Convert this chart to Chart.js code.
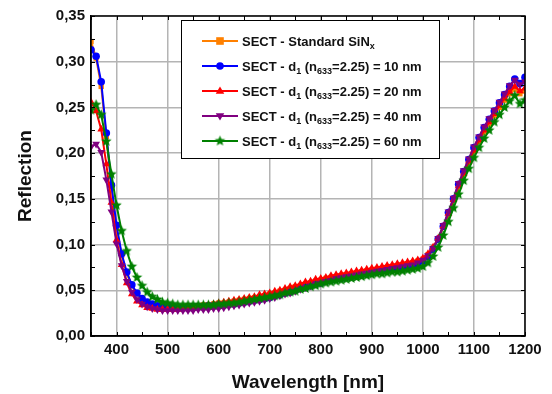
<!DOCTYPE html>
<html>
<head>
<meta charset="utf-8">
<script src="https://cdn.jsdelivr.net/npm/chart.js@4"></script>
<style>
  html, body { margin: 0; padding: 0; background: #fff; }
</style>
</head>
<body>
<canvas id="chart" width="552" height="394"></canvas>
<script>
// wavelength grid (nm)
const wavelengths = [
  350, 360, 370, 380, 390, 400, 410, 420, 430, 440,
  450, 460, 470, 480, 490, 500, 510, 520, 530, 540,
  550, 560, 570, 580, 590, 600, 610, 620, 630, 640,
  650, 660, 670, 680, 690, 700, 710, 720, 730, 740,
  750, 760, 770, 780, 790, 800, 810, 820, 830, 840,
  850, 860, 870, 880, 890, 900, 910, 920, 930, 940,
  950, 960, 970, 980, 990, 1000, 1010, 1020, 1030, 1040,
  1050, 1060, 1070, 1080, 1090, 1100, 1110, 1120, 1130, 1140,
  1150, 1160, 1170, 1180, 1190, 1200
];

const standardSiN = [
  0.322, 0.304, 0.273, 0.218, 0.162, 0.118, 0.088, 0.068, 0.055, 0.046,
  0.040, 0.036, 0.034, 0.033, 0.032, 0.032, 0.032, 0.032, 0.032, 0.033,
  0.033, 0.033, 0.034, 0.034, 0.035, 0.036, 0.036, 0.037, 0.038, 0.039,
  0.040, 0.041, 0.042, 0.043, 0.044, 0.046, 0.047, 0.049, 0.050, 0.052,
  0.054, 0.055, 0.057, 0.058, 0.060, 0.061, 0.063, 0.064, 0.065, 0.066,
  0.067, 0.068, 0.069, 0.070, 0.071, 0.072, 0.073, 0.074, 0.075, 0.076,
  0.077, 0.078, 0.079, 0.080, 0.082, 0.084, 0.089, 0.096, 0.106, 0.119,
  0.133, 0.148, 0.163, 0.177, 0.190, 0.202, 0.213, 0.223, 0.232, 0.241,
  0.250, 0.258, 0.265, 0.270, 0.265, 0.268
];

const d10 = [
  0.313, 0.306, 0.278, 0.222, 0.165, 0.121, 0.090, 0.070, 0.056, 0.047,
  0.041, 0.037, 0.035, 0.033, 0.032, 0.032, 0.031, 0.031, 0.031, 0.031,
  0.032, 0.032, 0.032, 0.033, 0.033, 0.034, 0.034, 0.035, 0.035, 0.036,
  0.037, 0.038, 0.039, 0.040, 0.041, 0.042, 0.044, 0.045, 0.047, 0.048,
  0.050, 0.052, 0.053, 0.055, 0.057, 0.058, 0.060, 0.061, 0.062, 0.063,
  0.064, 0.065, 0.066, 0.067, 0.068, 0.069, 0.070, 0.071, 0.072, 0.073,
  0.074, 0.075, 0.076, 0.077, 0.079, 0.082, 0.087, 0.095, 0.106, 0.120,
  0.135, 0.150, 0.166, 0.180, 0.193, 0.206, 0.217, 0.228, 0.237, 0.246,
  0.255, 0.264, 0.273, 0.281, 0.276, 0.283
];

const d20 = [
  0.256, 0.246, 0.226, 0.188, 0.146, 0.105, 0.078, 0.058, 0.046, 0.038,
  0.034, 0.031, 0.030, 0.029, 0.029, 0.029, 0.029, 0.029, 0.030, 0.030,
  0.031, 0.032, 0.033, 0.034, 0.035, 0.036, 0.037, 0.038, 0.039, 0.040,
  0.041, 0.042, 0.043, 0.045, 0.046, 0.047, 0.049, 0.050, 0.052, 0.054,
  0.055, 0.057, 0.059, 0.060, 0.062, 0.063, 0.064, 0.066, 0.067, 0.068,
  0.069, 0.070, 0.071, 0.072, 0.073, 0.074, 0.075, 0.076, 0.077, 0.078,
  0.079, 0.080, 0.081, 0.082, 0.083, 0.085, 0.090, 0.097, 0.107, 0.120,
  0.134, 0.149, 0.164, 0.178, 0.191, 0.203, 0.214, 0.225, 0.234, 0.243,
  0.252, 0.260, 0.267, 0.273, 0.268, 0.271
];

const d40 = [
  0.207, 0.210, 0.201, 0.171, 0.136, 0.101, 0.077, 0.060, 0.048, 0.040,
  0.035, 0.032, 0.030, 0.029, 0.028, 0.028, 0.028, 0.028, 0.028, 0.028,
  0.028, 0.029, 0.029, 0.029, 0.030, 0.030, 0.031, 0.032, 0.033, 0.034,
  0.035, 0.036, 0.037, 0.038, 0.039, 0.041, 0.042, 0.044, 0.046, 0.047,
  0.049, 0.051, 0.053, 0.055, 0.057, 0.058, 0.060, 0.061, 0.063, 0.064,
  0.065, 0.066, 0.067, 0.068, 0.069, 0.070, 0.071, 0.072, 0.073, 0.074,
  0.075, 0.076, 0.077, 0.078, 0.080, 0.083, 0.088, 0.096, 0.107, 0.121,
  0.136, 0.151, 0.167, 0.181, 0.194, 0.207, 0.218, 0.229, 0.238, 0.247,
  0.256, 0.265, 0.274, 0.280, 0.275, 0.278
];

const d60 = [
  0.247, 0.253, 0.242, 0.213, 0.177, 0.143, 0.115, 0.093, 0.076, 0.064,
  0.055, 0.048, 0.043, 0.040, 0.037, 0.036, 0.035, 0.034, 0.034, 0.034,
  0.034, 0.034, 0.034, 0.034, 0.034, 0.035, 0.035, 0.036, 0.036, 0.037,
  0.038, 0.039, 0.040, 0.041, 0.042, 0.043, 0.044, 0.045, 0.047, 0.048,
  0.049, 0.051, 0.052, 0.054, 0.055, 0.057, 0.058, 0.059, 0.060, 0.061,
  0.062, 0.063, 0.064, 0.065, 0.066, 0.067, 0.068, 0.068, 0.069, 0.070,
  0.070, 0.071, 0.072, 0.073, 0.074, 0.076, 0.080, 0.087, 0.097, 0.110,
  0.125, 0.140, 0.155, 0.170, 0.183, 0.195, 0.206, 0.216, 0.225, 0.234,
  0.242, 0.250, 0.257, 0.263, 0.254, 0.258
];

const xTicks = [400, 500, 600, 700, 800, 900, 1000, 1100, 1200];
const yTicks = [0, 0.05, 0.1, 0.15, 0.2, 0.25, 0.3, 0.35];

// legend text pieces: [text, isSubscript]
const legendLabels = [
  [["SECT - Standard SiN", false], ["x", true]],
  [["SECT - d", false], ["1", true], [" (n", false], ["633", true], ["=2.25) = 10 nm", false]],
  [["SECT - d", false], ["1", true], [" (n", false], ["633", true], ["=2.25) = 20 nm", false]],
  [["SECT - d", false], ["1", true], [" (n", false], ["633", true], ["=2.25) = 40 nm", false]],
  [["SECT - d", false], ["1", true], [" (n", false], ["633", true], ["=2.25) = 60 nm", false]]
];

const FONT = "'Liberation Sans', Arial, sans-serif";

// filled five-point star used as the green marker
function makeStar(color, r) {
  const c = document.createElement("canvas");
  const s = Math.ceil(r * 2 + 2);
  c.width = s;
  c.height = s;
  const g = c.getContext("2d");
  g.fillStyle = color;
  g.beginPath();
  for (let i = 0; i < 10; i++) {
    const rad = i % 2 === 0 ? r : r * 0.45;
    const a = -Math.PI / 2 + (i * Math.PI) / 5;
    const px = s / 2 + rad * Math.cos(a);
    const py = s / 2 + rad * Math.sin(a);
    if (i === 0) g.moveTo(px, py);
    else g.lineTo(px, py);
  }
  g.closePath();
  g.fill();
  return c;
}
const star = makeStar("#008000", 5.5);

function pts(vals) {
  return wavelengths.map((w, i) => ({ x: w, y: vals[i] }));
}

const series = [
  { data: standardSiN, color: "#FF8000", style: "rect", radius: 3.8, rot: 0, order: 5 },
  { data: d10, color: "#0000FF", style: "circle", radius: 3.8, rot: 0, order: 4 },
  { data: d20, color: "#FF0000", style: "triangle", radius: 4.5, rot: 0, order: 3 },
  { data: d40, color: "#800080", style: "triangle", radius: 4.5, rot: 180, order: 2 },
  { data: d60, color: "#008000", style: star, radius: 5.5, rot: 0, order: 1 }
];

const framePlugin = {
  id: "frame",
  afterDatasetsDraw(chart) {
    const { ctx, chartArea: a, scales } = chart;
    ctx.save();
    ctx.strokeStyle = "#000";
    ctx.lineWidth = 1.5;
    ctx.strokeRect(a.left, a.top, a.right - a.left, a.bottom - a.top);
    ctx.lineWidth = 1;
    ctx.beginPath();
    for (let v = 0; v <= 0.35001; v += 0.025) {
      const y = Math.round(scales.y.getPixelForValue(v)) + 0.5;
      ctx.moveTo(a.left, y);
      ctx.lineTo(a.left + 4, y);
      ctx.moveTo(a.right, y);
      ctx.lineTo(a.right - 4, y);
    }
    for (let w = 350; w <= 1200; w += 50) {
      const x = Math.round(scales.x.getPixelForValue(w)) + 0.5;
      ctx.moveTo(x, a.top);
      ctx.lineTo(x, a.top + 4);
      ctx.moveTo(x, a.bottom);
      ctx.lineTo(x, a.bottom - 4);
    }
    ctx.stroke();
    ctx.restore();
  }
};

function drawMarker(ctx, s, x, y) {
  ctx.fillStyle = s.color;
  if (s.style === "rect") {
    ctx.fillRect(x - s.radius, y - s.radius, s.radius * 2, s.radius * 2);
  } else if (s.style === "circle") {
    ctx.beginPath();
    ctx.arc(x, y, s.radius, 0, Math.PI * 2);
    ctx.fill();
  } else if (s.style === "triangle") {
    const r = s.radius;
    const dir = s.rot === 180 ? -1 : 1;
    ctx.beginPath();
    ctx.moveTo(x, y - dir * r);
    ctx.lineTo(x - r * 0.95, y + dir * r * 0.6);
    ctx.lineTo(x + r * 0.95, y + dir * r * 0.6);
    ctx.closePath();
    ctx.fill();
  } else {
    ctx.drawImage(s.style, x - s.style.width / 2, y - s.style.height / 2);
  }
}

const legendPlugin = {
  id: "boxLegend",
  afterDraw(chart) {
    const ctx = chart.ctx;
    const box = { x: 181.5, y: 20.5, w: 258, h: 138 };
    ctx.save();
    ctx.fillStyle = "#fff";
    ctx.fillRect(box.x, box.y, box.w, box.h);
    ctx.strokeStyle = "#000";
    ctx.lineWidth = 1;
    ctx.strokeRect(box.x, box.y, box.w, box.h);
    const rows = [41, 66, 91, 116, 141];
    series.forEach((s, i) => {
      const y = rows[i];
      ctx.strokeStyle = s.color;
      ctx.lineWidth = 2;
      ctx.beginPath();
      ctx.moveTo(202, y);
      ctx.lineTo(238, y);
      ctx.stroke();
      drawMarker(ctx, s, 220, y);
      let x = 242;
      ctx.fillStyle = "#111";
      ctx.textBaseline = "alphabetic";
      legendLabels[i].forEach(([t, sub]) => {
        ctx.font = sub ? "bold 9px " + FONT : "bold 13px " + FONT;
        ctx.fillText(t, x, sub ? y + 8 : y + 5);
        x += ctx.measureText(t).width;
      });
    });
    ctx.restore();
  }
};

new Chart(document.getElementById("chart"), {
  type: "line",
  data: {
    datasets: series.map((s) => ({
      data: pts(s.data),
      borderColor: s.color,
      backgroundColor: s.color,
      borderWidth: 2,
      pointStyle: s.style,
      pointRadius: s.radius,
      pointRotation: s.rot,
      pointBorderWidth: 0,
      order: s.order,
      tension: 0
    }))
  },
  options: {
    responsive: false,
    animation: false,
    layout: { padding: { left: 0, right: 27, top: 16, bottom: 0 } },
    plugins: { legend: { display: false }, tooltip: { enabled: false } },
    scales: {
      x: {
        type: "linear",
        min: 350,
        max: 1200,
        afterBuildTicks: (s) => { s.ticks = xTicks.map((v) => ({ value: v })); },
        afterFit: (s) => { s.height = 58; },
        grid: { color: "#b4b4b4", lineWidth: 1.5, drawTicks: false },
        border: { color: "#000", width: 1.5 },
        ticks: { color: "#111", font: { family: FONT, size: 15, weight: "bold" }, padding: 5, maxRotation: 0, autoSkip: false, callback: (v) => String(v) },
        title: { display: true, text: "Wavelength [nm]", color: "#111", font: { family: FONT, size: 19, weight: "bold" }, padding: { top: 2, bottom: 0 } }
      },
      y: {
        min: 0,
        max: 0.35,
        afterBuildTicks: (s) => { s.ticks = yTicks.map((v) => ({ value: v })); },
        afterFit: (s) => { s.width = 91; },
        grid: { color: "#b4b4b4", lineWidth: 1.5, drawTicks: false },
        border: { color: "#000", width: 1.5 },
        ticks: { color: "#111", font: { family: FONT, size: 15, weight: "bold" }, padding: 6, callback: (v) => v.toFixed(2).replace(".", ",") },
        title: { display: true, text: "Reflection", color: "#111", font: { family: FONT, size: 19, weight: "bold" }, padding: { top: 14, bottom: 0 } }
      }
    }
  },
  plugins: [framePlugin, legendPlugin]
});
</script>
</body>
</html>
